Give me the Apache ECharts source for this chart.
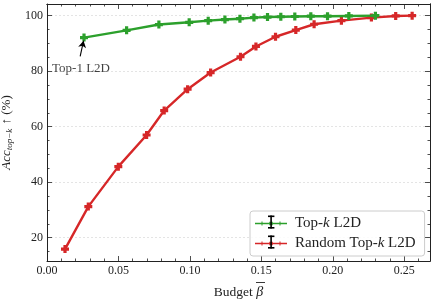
<!DOCTYPE html>
<html><head><meta charset="utf-8">
<script src="https://cdn.jsdelivr.net/npm/echarts@6/dist/echarts.min.js"></script>
<style>html,body{margin:0;padding:0;background:#fff}#c{width:434px;height:301px}</style>
</head><body><div id="c"></div>
<script>
// ---- data ----
const topkBudget = [0.0259,0.0557,0.0783,0.0995,0.1128,0.1245,0.1350,0.1448,0.1543,0.1636,0.1734,0.1846,0.1963,0.2112,0.2298];
const topkAcc    = [92.1,94.7,96.8,97.6,98.2,98.6,98.9,99.3,99.5,99.6,99.7,99.8,99.8,99.9,100.0];
const randBudget = [0.0126,0.0289,0.0499,0.0697,0.0820,0.0984,0.1145,0.1354,0.1462,0.1599,0.1741,0.1869,0.2060,0.2270,0.2440,0.2555];
const randAcc    = [15.9,31.2,45.6,57.0,65.8,73.5,79.5,85.2,88.9,92.4,94.8,96.9,98.2,99.3,99.9,100.0];
const xTicks = [0.00,0.05,0.10,0.15,0.20,0.25];
const yTicks = [20,40,60,80,100];
const xMinor = [0.01,0.02,0.03,0.04,0.06,0.07,0.08,0.09,0.11,0.12,0.13,0.14,0.16,0.17,0.18,0.19,0.21,0.22,0.23,0.24,0.26];
const yMinor = [15,25,30,35,45,50,55,65,70,75,85,90,95];
const seriesNames = ['Top-k L2D','Random Top-k L2D'];
const annotText = 'Top-1 L2D';
const annotTextPos = [0.0238, 81.0];
const annotArrow = [[0.0232, 85.3],[0.0256, 91.0]];

const FONT = 'Liberation Serif';
const GREEN = '#2ca02c', RED = '#d62728';
const X0 = 0, X1 = 0.268, Y0 = 11.6, Y1 = 104.2;
const plusSym = 'path://M-1.2,-3 L1.2,-3 L1.2,-1.2 L3,-1.2 L3,1.2 L1.2,1.2 L1.2,3 L-1.2,3 L-1.2,1.2 L-3,1.2 L-3,-1.2 L-1.2,-1.2 Z';
const legendIcon = 'path://M0,5.3 L32,5.3 L32,6.7 L0,6.7 Z M6.5,4 L7.5,4 L7.5,8 L6.5,8 Z M24.5,4 L25.5,4 L25.5,8 L24.5,8 Z M14.3,4.3 L17.7,4.3 L17.7,7.7 L14.3,7.7 Z';

function xAx(pos, vals, len, labels) {
  return {type:'value', min:X0, max:X1, position:pos,
    axisLine:{show:!!labels || pos==='top', onZero:false, lineStyle:{color:'#222', width:1}},
    axisTick:{show:true, inside:true, length:len, customValues:vals, lineStyle:{color:'#222', width:0.8}},
    axisLabel:labels ? {show:true, customValues:vals, formatter:v=>v.toFixed(2), fontFamily:FONT, fontSize:12, color:'#222', margin:4} : {show:false},
    splitLine:{show:false},
    name: labels ? 'Budget {b|β}' : '', nameLocation:'middle', nameGap:24,
    nameTextStyle:{fontFamily:FONT, fontSize:13.5, color:'#222',
      rich:{b:{fontFamily:FONT, fontStyle:'italic', fontSize:14, color:'#222'}}}
  };
}
function yAx(pos, vals, len, labels, split) {
  return {type:'value', min:Y0, max:Y1, position:pos,
    axisLine:{show:!!labels || pos==='right', onZero:false, lineStyle:{color:'#222', width:1}},
    axisTick:{show:true, inside:true, length:len, customValues:vals, lineStyle:{color:'#222', width:0.8}},
    axisLabel:labels ? {show:true, customValues:vals, fontFamily:FONT, fontSize:12, color:'#222', margin:4} : {show:false},
    splitLine:{show:!!split, lineStyle:{color:'#ddd', type:[2,2], width:0.8}},
    name: labels ? '{i|Acc}{s|top\u2212k} ↑ (%)' : '', nameLocation:'middle', nameGap:31,
    nameTextStyle:{fontFamily:FONT, fontSize:13, color:'#222',
      rich:{i:{fontFamily:FONT, fontStyle:'italic', fontSize:13, color:'#222'},
            s:{fontFamily:FONT, fontStyle:'italic', fontSize:9, color:'#222', padding:[6,1,0,0]}}}
  };
}

const chart = echarts.init(document.getElementById('c'), null, {renderer:'canvas'});
chart.setOption({
  animation:false,
  grid:{left:47, right:4, top:4, bottom:40, containLabel:false, outerBoundsMode:'none'},
  xAxis:[xAx('bottom', xTicks, 5, true), xAx('bottom', xMinor, 2.5, false), xAx('top', xTicks, 5, false), xAx('top', xMinor, 2.5, false)],
  yAxis:[yAx('left', yTicks, 5, true, true), yAx('left', yMinor, 2.5, false), yAx('right', yTicks, 5, false), yAx('right', yMinor, 2.5, false)],
  legend:{data:seriesNames.map(n=>({name:n, icon:legendIcon})), orient:'vertical', left:250, top:211,
    itemWidth:32, itemHeight:12, itemGap:5, padding:[5,9,5,5],
    borderColor:'#ccc', borderWidth:1, borderRadius:3, backgroundColor:'rgba(255,255,255,0.85)',
    textStyle:{fontFamily:FONT, fontSize:15, color:'#222', padding:[0,0,0,3],
      rich:{k:{fontFamily:FONT, fontStyle:'italic', fontSize:15, color:'#222'}}},
    formatter:n=>n.replace('Top-k','Top-{k|k}'),
    selectedMode:false},
  series:[
    {name:seriesNames[0], type:'line', xAxisIndex:0, yAxisIndex:0,
     data:topkBudget.map((x,i)=>[x,topkAcc[i]]), color:GREEN,
     lineStyle:{width:2.4, color:GREEN}, symbol:plusSym, symbolSize:8, showSymbol:true,
     itemStyle:{color:GREEN}, z:3,
     markLine:{silent:true, symbol:['none','arrow'], symbolSize:[6,7], label:{show:false},
       lineStyle:{color:'#000', width:1.1, type:'solid'},
       data:[[{coord:annotArrow[0]},{coord:annotArrow[1]}]]}},
    {name:seriesNames[1], type:'line', xAxisIndex:0, yAxisIndex:0,
     data:randBudget.map((x,i)=>[x,randAcc[i]]), color:RED,
     lineStyle:{width:2.4, color:RED}, symbol:plusSym, symbolSize:8, showSymbol:true,
     itemStyle:{color:RED}, z:2},
    {name:'annot', type:'scatter', xAxisIndex:0, yAxisIndex:0, data:[annotTextPos], symbolSize:0,
     label:{show:true, position:'inside', formatter:annotText, fontFamily:FONT, fontSize:13, color:'#111'}}
  ]
});
// black error-bar glyphs over legend icons, overline on beta
const ib = (cx, cy) => [
  {type:'rect', z:100, zlevel:1, shape:{x:cx-0.7, y:cy-6.5, width:1.6, height:13}, style:{fill:'#000'}},
  {type:'rect', z:100, zlevel:1, shape:{x:cx-3, y:cy-6.5, width:6.4, height:1.6}, style:{fill:'#000'}},
  {type:'rect', z:100, zlevel:1, shape:{x:cx-3, y:cy+5, width:6.4, height:1.6}, style:{fill:'#000'}}
];
chart.setOption({graphic:{elements:[...ib(271, 222), ...ib(271, 242),
  {type:'line', z:100, shape:{x1:256, y1:282.5, x2:265, y2:282.5}, style:{stroke:'#222', lineWidth:0.9}}]}});
</script></body></html>
